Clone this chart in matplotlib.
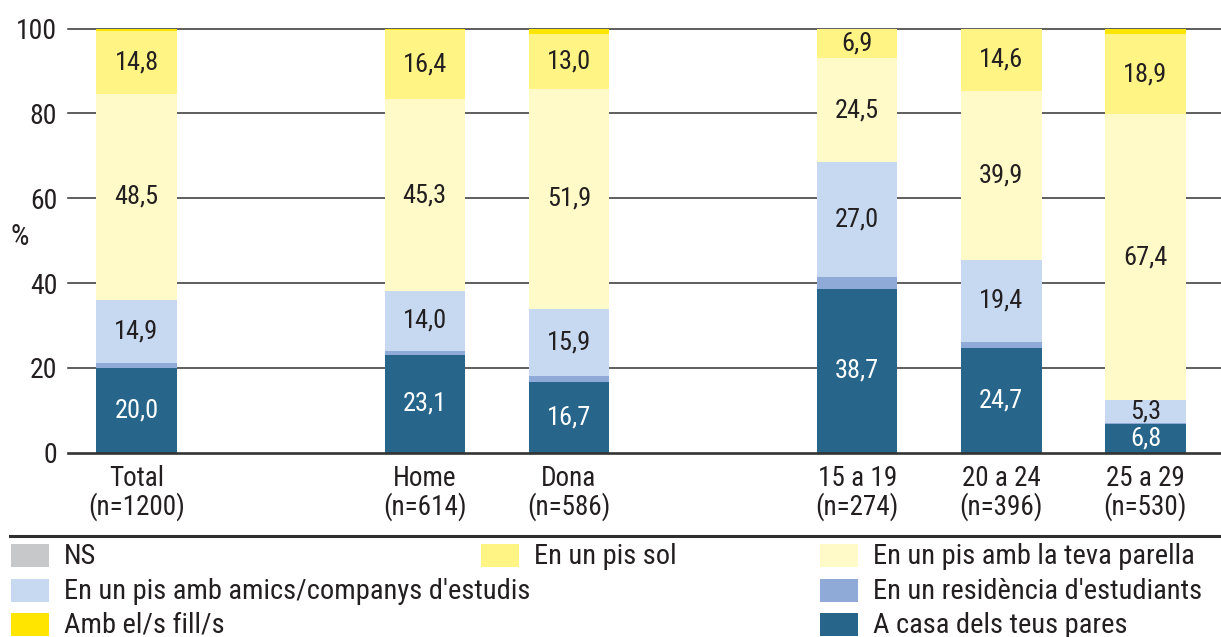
import matplotlib
matplotlib.use("Agg")
import matplotlib.pyplot as plt
from matplotlib import font_manager
from matplotlib.patches import Rectangle
from matplotlib.lines import Line2D

# ---------------- data ----------------
categories = ["Total\n(n=1200)", "Home\n(n=614)", "Dona\n(n=586)",
              "15 a 19\n(n=274)", "20 a 24\n(n=396)", "25 a 29\n(n=530)"]
positions = [0, 2, 3, 5, 6, 7]

pares = [20.0, 23.1, 16.7, 38.7, 24.7, 6.8]
residencia = [1.2, 1.0, 1.3, 2.8, 1.4, 0.3]
amics = [14.9, 14.0, 15.9, 27.0, 19.4, 5.3]
parella = [48.5, 45.3, 51.9, 24.5, 39.9, 67.4]
sol = [14.8, 16.4, 13.0, 6.9, 14.6, 18.9]
fills = [0.6, 0.2, 1.2, 0.1, 0.0, 1.2]
ns = [0.0, 0.0, 0.0, 0.0, 0.0, 0.0]

yticks = [0, 20, 40, 60, 80, 100]

series_names = ["A casa dels teus pares", "En un residència d'estudiants",
                "En un pis amb amics/companys d'estudis", "En un pis amb la teva parella",
                "En un pis sol", "Amb el/s fill/s", "NS"]
series_values = [pares, residencia, amics, parella, sol, fills, ns]
series_colors = ["#27658A", "#8FAAD6", "#C6D9F1", "#FFFAC8", "#FFF484", "#FFE500", "#C7C8CA"]
labelled = [True, False, True, True, True, False, False]
label_colors = ["white", None, "#231F20", "#231F20", "#231F20", None, None]

# ---------------- fonts ----------------
names = {f.name for f in font_manager.fontManager.ttflist}
fam = "DejaVu Sans"
for cand in ["Roboto Condensed", "PT Sans Narrow", "Archivo Narrow", "Liberation Sans Narrow"]:
    if cand in names:
        fam = cand
        break
plt.rcParams["font.family"] = [fam, "DejaVu Sans"]
if fam == "DejaVu Sans":
    plt.rcParams["font.stretch"] = "condensed"
TXT = "#231F20"

W, H = 1221, 637
fig = plt.figure(figsize=(W / 100, H / 100), dpi=100)
x0, y0, y1 = 67.7, 452.7, 28.7
ax = fig.add_axes([x0 / W, (H - y0) / H, 1 - x0 / W, (y0 - y1) / H])

step = 144.0
ax.set_xlim(-(136.5 - x0) / step, 7 + (W - 1145.5) / step)
ax.set_ylim(0, 100)

# grid lines
for v in yticks[1:]:
    ax.axhline(v, color="#333333", lw=1.1, zorder=0, clip_on=False)
ax.axhline(0, color="#333333", lw=1.9, zorder=3, clip_on=False)

width = 80.5 / step
bottom = [0.0] * len(positions)
for name, vals, col, lab, lcol in zip(series_names, series_values, series_colors,
                                      labelled, label_colors):
    ax.bar(positions, vals, width=width, bottom=bottom, color=col,
           edgecolor="none", zorder=2, label=name)
    if lab:
        for p, b, v in zip(positions, bottom, vals):
            ax.text(p, b + v / 2, f"{v:.1f}".replace(".", ","), ha="center",
                    va="center", fontsize=19, color=lcol, zorder=4)
    bottom = [b + v for b, v in zip(bottom, vals)]

for s in ax.spines.values():
    s.set_visible(False)
ax.set_yticks(yticks)
ax.set_yticklabels([str(t) for t in yticks], fontsize=20, color=TXT)
ax.set_xticks(positions)
ax.set_xticklabels(categories, fontsize=19.5, color=TXT, linespacing=1.0)
ax.tick_params(axis="y", length=0, pad=7.5)
ax.tick_params(axis="x", length=0, pad=9)

fig.text(20 / W, 1 - 237 / H, "%", ha="center", va="center", fontsize=21, color=TXT)

# ---------------- legend ----------------
fig.add_artist(Line2D([10 / W, 1], [1 - 536 / H, 1 - 536 / H], transform=fig.transFigure,
                      color="#2e2e2e", lw=2.2))
col_x = [11, 481, 820]
row_y = [555.5, 590.5, 624.5]
entries = [(0, 0, 6), (1, 0, 4), (2, 0, 3), (0, 1, 2), (2, 1, 1), (0, 2, 5), (2, 2, 0)]
for c, r, i in entries:
    bx, by = col_x[c], row_y[r]
    fig.add_artist(Rectangle((bx / W, 1 - (by + 11.5) / H), 38 / W, 23 / H,
                             transform=fig.transFigure, color=series_colors[i], lw=0))
    fig.text((bx + 53) / W, 1 - (by + 1) / H, series_names[i], ha="left",
             va="center", fontsize=20.5, color=TXT)

fig.savefig("out.png", dpi=100)
